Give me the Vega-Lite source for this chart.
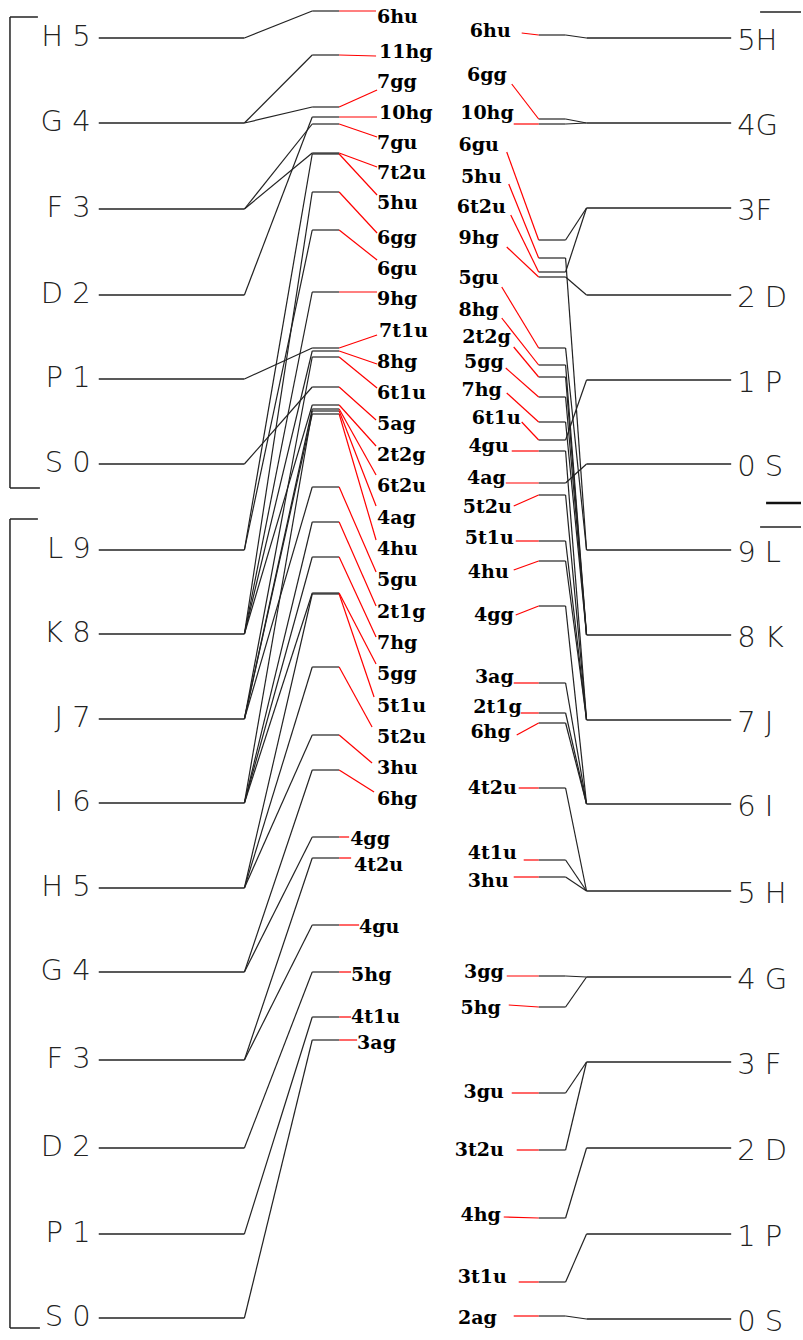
{
  "$schema": "https://vega.github.io/schema/vega-lite/v6.json",
  "width": 803,
  "height": 1340,
  "padding": 0,
  "autosize": {"type": "fit", "contains": "padding"},
  "background": "white",
  "config": {"view": {"stroke": null}},
  "datasets": {
    "brackets": [
      {"side": "L", "top": 17, "bottom": 488},
      {"side": "L", "top": 519, "bottom": 1328},
      {"side": "R", "top": 12, "bottom": 503},
      {"side": "R", "top": 527, "bottom": null}
    ],
    "levels": [
      {"side": "L", "name": "H 5", "y": 38},
      {"side": "L", "name": "G 4", "y": 123},
      {"side": "L", "name": "F 3", "y": 209},
      {"side": "L", "name": "D 2", "y": 295},
      {"side": "L", "name": "P 1", "y": 379},
      {"side": "L", "name": "S 0", "y": 464},
      {"side": "L", "name": "L 9", "y": 550},
      {"side": "L", "name": "K 8", "y": 634},
      {"side": "L", "name": "J 7", "y": 719},
      {"side": "L", "name": "I 6", "y": 803},
      {"side": "L", "name": "H 5", "y": 888},
      {"side": "L", "name": "G 4", "y": 972},
      {"side": "L", "name": "F 3", "y": 1060},
      {"side": "L", "name": "D 2", "y": 1148},
      {"side": "L", "name": "P 1", "y": 1234},
      {"side": "L", "name": "S 0", "y": 1318},
      {"side": "R", "name": "5H", "y": 38},
      {"side": "R", "name": "4G", "y": 123},
      {"side": "R", "name": "3F", "y": 208},
      {"side": "R", "name": "2 D", "y": 295},
      {"side": "R", "name": "1 P", "y": 380},
      {"side": "R", "name": "0 S", "y": 464},
      {"side": "R", "name": "9 L", "y": 550},
      {"side": "R", "name": "8 K", "y": 635},
      {"side": "R", "name": "7 J", "y": 720},
      {"side": "R", "name": "6 I", "y": 804},
      {"side": "R", "name": "5 H", "y": 891},
      {"side": "R", "name": "4 G", "y": 977},
      {"side": "R", "name": "3 F", "y": 1062},
      {"side": "R", "name": "2 D", "y": 1148},
      {"side": "R", "name": "1 P", "y": 1234},
      {"side": "R", "name": "0 S", "y": 1319}
    ],
    "conns": [
      {"side": "L", "mo": "6hu", "lvl": 38, "sy": 11, "rx": 377, "ry": 11, "lx": 378, "ly": 17},
      {"side": "L", "mo": "11hg", "lvl": 123, "sy": 55, "rx": 377, "ry": 56, "lx": 380, "ly": 52},
      {"side": "L", "mo": "7gg", "lvl": 123, "sy": 107, "rx": 378, "ry": 90, "lx": 378, "ly": 82},
      {"side": "L", "mo": "10hg", "lvl": 295, "sy": 117, "rx": 378, "ry": 117, "lx": 380, "ly": 113},
      {"side": "L", "mo": "7gu", "lvl": 209, "sy": 124, "rx": 378, "ry": 137, "lx": 378, "ly": 143},
      {"side": "L", "mo": "7t2u", "lvl": 209, "sy": 153, "rx": 378, "ry": 167, "lx": 378, "ly": 173},
      {"side": "L", "mo": "5hu", "lvl": 550, "sy": 154, "rx": 378, "ry": 195, "lx": 378, "ly": 203},
      {"side": "L", "mo": "6gg", "lvl": 634, "sy": 192, "rx": 378, "ry": 233, "lx": 378, "ly": 238},
      {"side": "L", "mo": "6gu", "lvl": 550, "sy": 230, "rx": 378, "ry": 260, "lx": 378, "ly": 269},
      {"side": "L", "mo": "9hg", "lvl": 634, "sy": 292, "rx": 378, "ry": 292, "lx": 378, "ly": 299},
      {"side": "L", "mo": "7t1u", "lvl": 379, "sy": 348, "rx": 378, "ry": 335, "lx": 380, "ly": 331},
      {"side": "L", "mo": "8hg", "lvl": 634, "sy": 351, "rx": 378, "ry": 364, "lx": 378, "ly": 362},
      {"side": "L", "mo": "6t1u", "lvl": 719, "sy": 357, "rx": 378, "ry": 388, "lx": 378, "ly": 393},
      {"side": "L", "mo": "5ag", "lvl": 464, "sy": 387, "rx": 377, "ry": 420, "lx": 378, "ly": 424},
      {"side": "L", "mo": "2t2g", "lvl": 634, "sy": 405, "rx": 377, "ry": 446, "lx": 378, "ly": 455},
      {"side": "L", "mo": "6t2u", "lvl": 719, "sy": 409, "rx": 377, "ry": 475, "lx": 378, "ly": 486},
      {"side": "L", "mo": "4ag", "lvl": 803, "sy": 411, "rx": 377, "ry": 506, "lx": 378, "ly": 518},
      {"side": "L", "mo": "4hu", "lvl": 719, "sy": 414, "rx": 377, "ry": 540, "lx": 378, "ly": 549},
      {"side": "L", "mo": "5gu", "lvl": 719, "sy": 487, "rx": 377, "ry": 572, "lx": 378, "ly": 580},
      {"side": "L", "mo": "2t1g", "lvl": 803, "sy": 522, "rx": 377, "ry": 606, "lx": 378, "ly": 612},
      {"side": "L", "mo": "7hg", "lvl": 803, "sy": 557, "rx": 377, "ry": 637, "lx": 378, "ly": 643},
      {"side": "L", "mo": "5gg", "lvl": 803, "sy": 593, "rx": 377, "ry": 664, "lx": 378, "ly": 674},
      {"side": "L", "mo": "5t1u", "lvl": 888, "sy": 594, "rx": 375, "ry": 697, "lx": 378, "ly": 706},
      {"side": "L", "mo": "5t2u", "lvl": 888, "sy": 667, "rx": 373, "ry": 727, "lx": 378, "ly": 737},
      {"side": "L", "mo": "3hu", "lvl": 888, "sy": 735, "rx": 373, "ry": 763, "lx": 378, "ly": 768},
      {"side": "L", "mo": "6hg", "lvl": 972, "sy": 770, "rx": 375, "ry": 792, "lx": 378, "ly": 799},
      {"side": "L", "mo": "4gg", "lvl": 972, "sy": 837, "rx": 350, "ry": 837, "lx": 351, "ly": 839},
      {"side": "L", "mo": "4t2u", "lvl": 1060, "sy": 858, "rx": 352, "ry": 858, "lx": 355, "ly": 865},
      {"side": "L", "mo": "4gu", "lvl": 1060, "sy": 925, "rx": 360, "ry": 925, "lx": 360, "ly": 927},
      {"side": "L", "mo": "5hg", "lvl": 1148, "sy": 972, "rx": 352, "ry": 972, "lx": 352, "ly": 975},
      {"side": "L", "mo": "4t1u", "lvl": 1234, "sy": 1017, "rx": 352, "ry": 1017, "lx": 352, "ly": 1017},
      {"side": "L", "mo": "3ag", "lvl": 1318, "sy": 1040, "rx": 358, "ry": 1040, "lx": 358, "ly": 1043},
      {"side": "R", "mo": "6hu", "lvl": 38, "sy": 35, "rx": 523, "ry": 33, "lx": 512, "ly": 31},
      {"side": "R", "mo": "6gg", "lvl": 123, "sy": 119, "rx": 513, "ry": 84, "lx": 508, "ly": 75},
      {"side": "R", "mo": "10hg", "lvl": 123, "sy": 124, "rx": 515, "ry": 124, "lx": 515, "ly": 113},
      {"side": "R", "mo": "6gu", "lvl": 208, "sy": 240, "rx": 508, "ry": 152, "lx": 500, "ly": 145},
      {"side": "R", "mo": "5hu", "lvl": 550, "sy": 258, "rx": 510, "ry": 184, "lx": 503, "ly": 177},
      {"side": "R", "mo": "6t2u", "lvl": 208, "sy": 272, "rx": 512, "ry": 215, "lx": 507, "ly": 207},
      {"side": "R", "mo": "9hg", "lvl": 295, "sy": 277, "rx": 508, "ry": 247, "lx": 500, "ly": 238},
      {"side": "R", "mo": "5gu", "lvl": 550, "sy": 348, "rx": 503, "ry": 287, "lx": 500, "ly": 278},
      {"side": "R", "mo": "8hg", "lvl": 635, "sy": 365, "rx": 503, "ry": 318, "lx": 500, "ly": 310},
      {"side": "R", "mo": "2t2g", "lvl": 635, "sy": 377, "rx": 515, "ry": 347, "lx": 512, "ly": 337},
      {"side": "R", "mo": "5gg", "lvl": 635, "sy": 397, "rx": 507, "ry": 368, "lx": 505, "ly": 362},
      {"side": "R", "mo": "7hg", "lvl": 635, "sy": 422, "rx": 508, "ry": 393, "lx": 503, "ly": 390},
      {"side": "R", "mo": "6t1u", "lvl": 380, "sy": 440, "rx": 523, "ry": 422, "lx": 522, "ly": 418},
      {"side": "R", "mo": "4gu", "lvl": 720, "sy": 451, "rx": 513, "ry": 451, "lx": 510, "ly": 446},
      {"side": "R", "mo": "4ag", "lvl": 464, "sy": 483, "rx": 507, "ry": 483, "lx": 507, "ly": 478},
      {"side": "R", "mo": "5t2u", "lvl": 720, "sy": 495, "rx": 515, "ry": 506, "lx": 513, "ly": 507},
      {"side": "R", "mo": "5t1u", "lvl": 720, "sy": 541, "rx": 517, "ry": 541, "lx": 515, "ly": 538},
      {"side": "R", "mo": "4hu", "lvl": 720, "sy": 561, "rx": 515, "ry": 570, "lx": 510, "ly": 572},
      {"side": "R", "mo": "4gg", "lvl": 804, "sy": 606, "rx": 517, "ry": 615, "lx": 515, "ly": 615},
      {"side": "R", "mo": "3ag", "lvl": 804, "sy": 683, "rx": 515, "ry": 683, "lx": 515, "ly": 677},
      {"side": "R", "mo": "2t1g", "lvl": 804, "sy": 713, "rx": 522, "ry": 713, "lx": 523, "ly": 707},
      {"side": "R", "mo": "6hg", "lvl": 804, "sy": 723, "rx": 518, "ry": 735, "lx": 512, "ly": 732},
      {"side": "R", "mo": "4t2u", "lvl": 891, "sy": 788, "rx": 520, "ry": 788, "lx": 518, "ly": 788},
      {"side": "R", "mo": "4t1u", "lvl": 891, "sy": 860, "rx": 525, "ry": 860, "lx": 518, "ly": 853},
      {"side": "R", "mo": "3hu", "lvl": 891, "sy": 877, "rx": 515, "ry": 877, "lx": 510, "ly": 881},
      {"side": "R", "mo": "3gg", "lvl": 977, "sy": 976, "rx": 508, "ry": 976, "lx": 505, "ly": 972},
      {"side": "R", "mo": "5hg", "lvl": 977, "sy": 1007, "rx": 510, "ry": 1005, "lx": 502, "ly": 1008},
      {"side": "R", "mo": "3gu", "lvl": 1062, "sy": 1093, "rx": 513, "ry": 1093, "lx": 505, "ly": 1092},
      {"side": "R", "mo": "3t2u", "lvl": 1062, "sy": 1150, "rx": 518, "ry": 1150, "lx": 505, "ly": 1150},
      {"side": "R", "mo": "4hg", "lvl": 1148, "sy": 1218, "rx": 505, "ry": 1217, "lx": 502, "ly": 1215},
      {"side": "R", "mo": "3t1u", "lvl": 1234, "sy": 1282, "rx": 520, "ry": 1282, "lx": 508, "ly": 1277},
      {"side": "R", "mo": "2ag", "lvl": 1319, "sy": 1316, "rx": 515, "ry": 1316, "lx": 498, "ly": 1318}
    ]
  },
  "layer": [
    {
      "data": {"name": "conns"},
      "transform": [{"filter": "datum.side === 'L'"}],
      "mark": {"type": "text", "align": "left", "baseline": "middle", "font": "DejaVu Serif", "fontSize": 19, "fontWeight": "bold", "color": "#000"},
      "encoding": {
        "x": {"field": "lx", "type": "quantitative", "scale": {"domain": [0, 803], "nice": false, "zero": false}, "axis": null},
        "y": {"field": "ly", "type": "quantitative", "scale": {"domain": [0, 1340], "reverse": true, "nice": false, "zero": false}, "axis": null},
        "text": {"field": "mo"}
      }
    },
    {
      "data": {"name": "conns"},
      "transform": [{"filter": "datum.side === 'R'"}],
      "mark": {"type": "text", "align": "right", "baseline": "middle", "font": "DejaVu Serif", "fontSize": 19, "fontWeight": "bold", "color": "#000"},
      "encoding": {
        "x": {"field": "lx", "type": "quantitative"},
        "y": {"field": "ly", "type": "quantitative"},
        "text": {"field": "mo"}
      }
    },
    {
      "data": {"name": "brackets"},
      "transform": [{"filter": "datum.side === 'L'"}],
      "mark": {"type": "rule", "color": "#222", "strokeWidth": 1.5},
      "encoding": {
        "x": {"datum": 10, "type": "quantitative"},
        "y": {"field": "top", "type": "quantitative"},
        "y2": {"field": "bottom"}
      }
    },
    {
      "data": {"name": "brackets"},
      "transform": [{"filter": "datum.side === 'L'"}],
      "mark": {"type": "rule", "color": "#222", "strokeWidth": 1.5},
      "encoding": {
        "x": {"datum": 10, "type": "quantitative"},
        "x2": {"datum": 38},
        "y": {"field": "top", "type": "quantitative"}
      }
    },
    {
      "data": {"name": "brackets"},
      "transform": [{"filter": "datum.side === 'L'"}],
      "mark": {"type": "rule", "color": "#222", "strokeWidth": 1.5},
      "encoding": {
        "x": {"datum": 10, "type": "quantitative"},
        "x2": {"datum": 40},
        "y": {"field": "bottom", "type": "quantitative"}
      }
    },
    {
      "data": {"name": "brackets"},
      "transform": [{"filter": "datum.side === 'R'"}],
      "mark": {"type": "rule", "color": "#222", "strokeWidth": 1.5},
      "encoding": {
        "x": {"datum": 762, "type": "quantitative"},
        "x2": {"datum": 803},
        "y": {"field": "top", "type": "quantitative"}
      }
    },
    {
      "data": {"name": "brackets"},
      "transform": [{"filter": "datum.side === 'R' && datum.bottom != null"}],
      "mark": {"type": "rule", "color": "#111", "strokeWidth": 2.5},
      "encoding": {
        "x": {"datum": 768, "type": "quantitative"},
        "x2": {"datum": 803},
        "y": {"field": "bottom", "type": "quantitative"}
      }
    },
    {
      "data": {"name": "levels"},
      "transform": [{"filter": "datum.side === 'L'"}],
      "mark": {"type": "rule", "color": "#222", "strokeWidth": 1.3},
      "encoding": {
        "x": {"datum": 99, "type": "quantitative"},
        "x2": {"datum": 245},
        "y": {"field": "y", "type": "quantitative"}
      }
    },
    {
      "data": {"name": "levels"},
      "transform": [{"filter": "datum.side === 'R'"}],
      "mark": {"type": "rule", "color": "#222", "strokeWidth": 1.3},
      "encoding": {
        "x": {"datum": 588, "type": "quantitative"},
        "x2": {"datum": 733},
        "y": {"field": "y", "type": "quantitative"}
      }
    },
    {
      "data": {"name": "levels"},
      "transform": [{"filter": "datum.side === 'L'"}],
      "mark": {"type": "text", "align": "right", "baseline": "middle", "font": "DejaVu Sans", "fontSize": 29, "fontWeight": 300, "color": "#222", "dy": -1},
      "encoding": {
        "x": {"datum": 91, "type": "quantitative"},
        "y": {"field": "y", "type": "quantitative"},
        "text": {"field": "name"}
      }
    },
    {
      "data": {"name": "levels"},
      "transform": [{"filter": "datum.side === 'R'"}],
      "mark": {"type": "text", "align": "left", "baseline": "middle", "font": "DejaVu Sans", "fontSize": 29, "fontWeight": 300, "color": "#222", "dy": 3},
      "encoding": {
        "x": {"datum": 739, "type": "quantitative"},
        "y": {"field": "y", "type": "quantitative"},
        "text": {"field": "name"}
      }
    },
    {
      "data": {"name": "conns"},
      "transform": [{"filter": "datum.side === 'L'"}],
      "mark": {"type": "rule", "color": "#222", "strokeWidth": 1.2},
      "encoding": {
        "x": {"datum": 245, "type": "quantitative"},
        "x2": {"datum": 313},
        "y": {"field": "lvl", "type": "quantitative"},
        "y2": {"field": "sy"}
      }
    },
    {
      "data": {"name": "conns"},
      "transform": [{"filter": "datum.side === 'L'"}],
      "mark": {"type": "rule", "color": "#222", "strokeWidth": 1.2},
      "encoding": {
        "x": {"datum": 313, "type": "quantitative"},
        "x2": {"datum": 340},
        "y": {"field": "sy", "type": "quantitative"}
      }
    },
    {
      "data": {"name": "conns"},
      "transform": [{"filter": "datum.side === 'L'"}],
      "mark": {"type": "rule", "color": "#ff0000", "strokeWidth": 1.2},
      "encoding": {
        "x": {"field": "rx", "type": "quantitative"},
        "x2": {"datum": 340},
        "y": {"field": "ry", "type": "quantitative"},
        "y2": {"field": "sy"}
      }
    },
    {
      "data": {"name": "conns"},
      "transform": [{"filter": "datum.side === 'R'"}],
      "mark": {"type": "rule", "color": "#222", "strokeWidth": 1.2},
      "encoding": {
        "x": {"datum": 588, "type": "quantitative"},
        "x2": {"datum": 567},
        "y": {"field": "lvl", "type": "quantitative"},
        "y2": {"field": "sy"}
      }
    },
    {
      "data": {"name": "conns"},
      "transform": [{"filter": "datum.side === 'R'"}],
      "mark": {"type": "rule", "color": "#222", "strokeWidth": 1.2},
      "encoding": {
        "x": {"datum": 567, "type": "quantitative"},
        "x2": {"datum": 540},
        "y": {"field": "sy", "type": "quantitative"}
      }
    },
    {
      "data": {"name": "conns"},
      "transform": [{"filter": "datum.side === 'R'"}],
      "mark": {"type": "rule", "color": "#ff0000", "strokeWidth": 1.2},
      "encoding": {
        "x": {"field": "rx", "type": "quantitative"},
        "x2": {"datum": 540},
        "y": {"field": "ry", "type": "quantitative"},
        "y2": {"field": "sy"}
      }
    }
  ]
}
